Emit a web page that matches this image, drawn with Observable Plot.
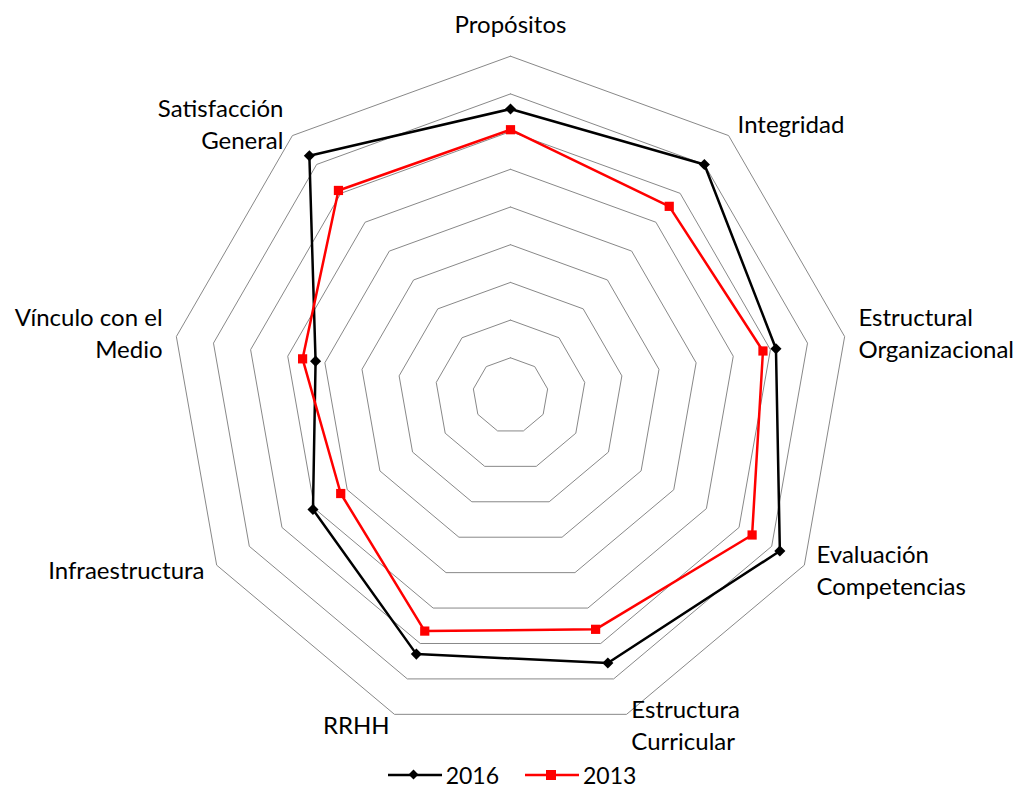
<!DOCTYPE html>
<html>
<head>
<meta charset="utf-8">
<script src="https://cdn.jsdelivr.net/npm/d3@7"></script>
<script src="https://cdn.jsdelivr.net/npm/@observablehq/plot@0.6"></script>
<style>
  body { margin: 0; background: #fff; font-family: Lato, "Open Sans", sans-serif; }
  #legend { display: flex; justify-content: center; align-items: center; gap: 26px; height: 30px; font-size: 23px; color: #000; padding-left: 4px; }
  #legend .item { display: flex; align-items: center; gap: 4px; }
</style>
</head>
<body>
<div id="chart"></div>
<div id="legend"></div>
<script>
// ---- data ----
const categories = ["Propósitos", "Integridad", "Estructural\nOrganizacional", "Evaluación\nCompetencias", "Estructura\nCurricular", "RRHH", "Infraestructura", "Vínculo con el\nMedio", "Satisfacción\nGeneral"];
const values2016 = [76, 80, 71.5, 82.5, 75.5, 73, 60.5, 52.5, 83];
const values2013 = [70.5, 65.5, 68, 74, 66, 66.5, 52, 56, 71];
const ringValues = [10, 20, 30, 40, 50, 60, 70, 80, 90];
const seriesNames = ["2016", "2013"];

// ---- geometry ----
const W = 1020, H = 760;
const cx = 510, cy = 395, pxPerUnit = 3.77;
const n = categories.length;
const ang = i => (i * 2 * Math.PI) / n;
const maxR = ringValues[ringValues.length - 1];

const gridData = [];
for (const r of ringValues) {
  for (let i = 0; i <= n; i++) {
    const a = ang(i % n);
    gridData.push({ring: r, x: r * Math.sin(a), y: r * Math.cos(a)});
  }
}
function seriesPts(vals, name) {
  const pts = [];
  for (let i = 0; i <= n; i++) {
    const a = ang(i % n);
    pts.push({series: name, cat: categories[i % n], x: vals[i % n] * Math.sin(a), y: vals[i % n] * Math.cos(a)});
  }
  return pts;
}
const s2016 = seriesPts(values2016, seriesNames[0]);
const s2013 = seriesPts(values2013, seriesNames[1]);

const labels = categories.map((c, i) => {
  const a = ang(i);
  const s = Math.sin(a), co = Math.cos(a);
  const offX = 14 * s / pxPerUnit;
  const offY = ((i === 0 ? 31 : 13 * co) + 2.5) / pxPerUnit;
  const side = Math.abs(s) < 1e-6 ? "middle" : (s > 0 ? "start" : "end");
  return {text: c, x: maxR * s + offX, y: maxR * co + offY, side};
});

const xDom = [-cx / pxPerUnit, (W - cx) / pxPerUnit];
const yDom = [-(H - cy) / pxPerUnit, cy / pxPerUnit];

const textOpts = {x: "x", y: "y", text: "text", fontSize: 24, lineHeight: 1.33, lineAnchor: "middle", fill: "#000", fontFamily: "Lato"};

const chart = Plot.plot({
  width: W, height: H,
  margin: 0,
  x: {domain: xDom, range: [0, W], axis: null},
  y: {domain: yDom, range: [H, 0], axis: null},
  style: {fontFamily: "Lato, sans-serif", background: "#fff"},
  marks: [
    Plot.line(gridData, {x: "x", y: "y", z: "ring", stroke: "#888", strokeWidth: 1}),
    Plot.line(s2016, {x: "x", y: "y", stroke: "#000", strokeWidth: 2.5}),
    Plot.dot(s2016.slice(0, n), {x: "x", y: "y", symbol: "diamond2", r: 5, fill: "#000", stroke: "none"}),
    Plot.line(s2013, {x: "x", y: "y", stroke: "#ff0000", strokeWidth: 2.5}),
    Plot.dot(s2013.slice(0, n), {x: "x", y: "y", symbol: "square", r: 5.2, fill: "#ff0000", stroke: "none"}),
    Plot.text(labels.filter(d => d.side === "middle"), {...textOpts, textAnchor: "middle"}),
    Plot.text(labels.filter(d => d.side === "start"), {...textOpts, textAnchor: "start"}),
    Plot.text(labels.filter(d => d.side === "end"), {...textOpts, textAnchor: "end"})
  ]
});
document.getElementById("chart").appendChild(chart);

// ---- legend ----
const legend = document.getElementById("legend");
const legendItems = [
  {name: seriesNames[0], color: "#000", symbol: "diamond"},
  {name: seriesNames[1], color: "#ff0000", symbol: "square"}
];
for (const it of legendItems) {
  const div = document.createElement("div");
  div.className = "item";
  const marker = it.symbol === "diamond"
    ? `<rect x="22" y="11" width="7" height="7" transform="rotate(45 25.5 14.5)" fill="${it.color}"/>`
    : `<rect x="21" y="10" width="10" height="10" fill="${it.color}"/>`;
  div.innerHTML = `<svg width="54" height="30"><line x1="0" y1="15" x2="54" y2="15" stroke="${it.color}" stroke-width="2.5"/>${marker}</svg><span>${it.name}</span>`;
  legend.appendChild(div);
}
</script>
</body>
</html>
